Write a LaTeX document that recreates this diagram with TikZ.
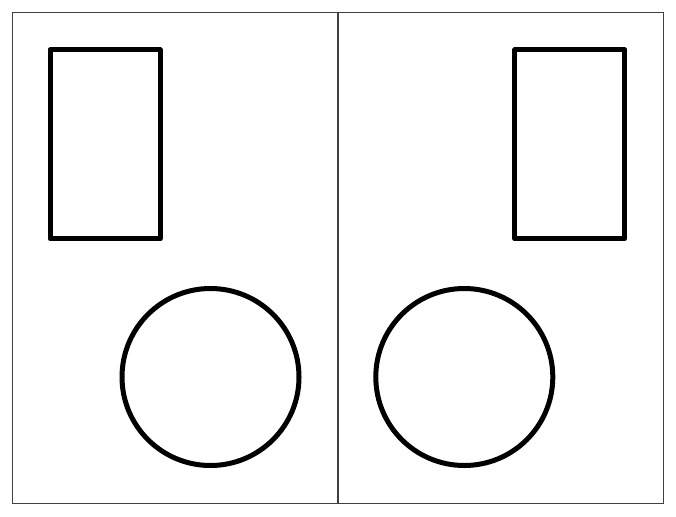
\documentclass[tikz,border=0pt]{standalone}
\usepackage{tikz}
\usetikzlibrary{positioning}

\tikzset{
  panel/.style={draw=black!75, line width=1pt, inner sep=0pt, minimum width=325.5pt, minimum height=490pt},
  boxshape/.style={draw=black, line width=5pt, line join=round, inner sep=0pt, minimum width=110pt, minimum height=189pt},
  roundshape/.style={draw=black, line width=5pt, circle, inner sep=0pt, minimum size=177pt}
}

\begin{document}
\begin{tikzpicture}[x=1pt, y=-1pt]
  \useasboundingbox (0,0) rectangle (676,516);

  \node[panel] (pl) at (175.25, 258.0) {};
  \node[panel] (pr) at (500.25, 258.0) {};

  \node[boxshape] (bl) at (105.0, 144.3) {};
  \node[boxshape] (br) at (569.8, 144.3) {};

  \node[roundshape] (cl) at (210.5, 377.0) {};
  \node[roundshape] (cr) at (464.3, 377.0) {};
\end{tikzpicture}
\end{document}
